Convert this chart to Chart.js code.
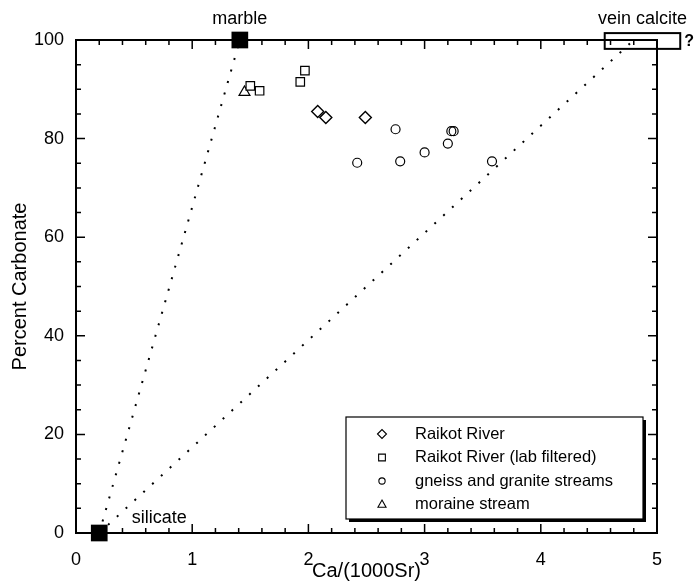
<!DOCTYPE html>
<html>
<head>
<meta charset="utf-8">
<script src="https://cdn.jsdelivr.net/npm/chart.js@4/dist/chart.umd.min.js"></script>
<style>
  html, body { margin: 0; padding: 0; background: #fff; }
  #wrap { width: 696px; height: 584px; position: relative; }
</style>
</head>
<body>
<div id="wrap"><canvas id="chart"></canvas></div>
<script>
// data
const raikotX = [2.08, 2.15, 2.49];
const raikotY = [85.5, 84.3, 84.3];
const filteredX = [1.50, 1.58, 1.93, 1.97];
const filteredY = [90.7, 89.7, 91.5, 93.8];
const gneissX = [2.42, 2.75, 2.79, 3.00, 3.20, 3.23, 3.25, 3.58];
const gneissY = [75.1, 81.9, 75.4, 77.2, 79.0, 81.5, 81.5, 75.4];
const moraineX = [1.45];
const moraineY = [89.4];

// end members and mixing lines
const endNames = ["silicate", "marble"];
const endX = [0.2, 1.41];
const endY = [0, 100];
const veinX = [4.55, 5.2];   // vein calcite box range
const veinY = [98.2, 101.4];
const mixLowX = [0.2, 4.8];
const mixLowY = [0, 100];

const xTicks = [0, 1, 2, 3, 4, 5];
const yTicks = [0, 20, 40, 60, 80, 100];
const legendLabels = ["Raikot River", "Raikot River (lab filtered)", "gneiss and granite streams", "moraine stream"];

const FONT = "'Liberation Sans', Arial, Helvetica, sans-serif";

function pts(xs, ys) {
  return xs.map((x, i) => ({ x: x, y: ys[i] }));
}

// frame + inward ticks, drawn before the points
const framePlugin = {
  id: "frame",
  beforeDatasetsDraw(chart) {
    const ctx = chart.ctx;
    const a = chart.chartArea;
    const xs = chart.scales.x, ys = chart.scales.y;
    ctx.save();
    ctx.strokeStyle = "#000";
    ctx.lineWidth = 1.5;
    ctx.beginPath();
    for (let v = 0; v <= 5.0001; v += 0.2) {
      const px = xs.getPixelForValue(v);
      const major = Math.abs(v - Math.round(v)) < 1e-6;
      const len = major ? 9 : 5;
      ctx.moveTo(px, a.bottom); ctx.lineTo(px, a.bottom - len);
      ctx.moveTo(px, a.top); ctx.lineTo(px, a.top + len);
    }
    for (let v = 0; v <= 100; v += 5) {
      const py = ys.getPixelForValue(v);
      const len = v % 20 === 0 ? 9 : 5;
      ctx.moveTo(a.left, py); ctx.lineTo(a.left + len, py);
      ctx.moveTo(a.right, py); ctx.lineTo(a.right - len, py);
    }
    ctx.stroke();
    ctx.lineWidth = 2;
    ctx.strokeRect(a.left, a.top, a.right - a.left, a.bottom - a.top);
    ctx.restore();
  }
};

function drawSymbol(ctx, kind, x, y, r) {
  ctx.beginPath();
  if (kind === "diamond") {
    ctx.moveTo(x - r, y); ctx.lineTo(x, y - r); ctx.lineTo(x + r, y); ctx.lineTo(x, y + r); ctx.closePath();
  } else if (kind === "square") {
    ctx.rect(x - r * 0.75, y - r * 0.75, r * 1.5, r * 1.5);
  } else if (kind === "circle") {
    ctx.arc(x, y, r * 0.7, 0, Math.PI * 2);
  } else {
    ctx.moveTo(x, y - r); ctx.lineTo(x + r * 0.9, y + r * 0.6); ctx.lineTo(x - r * 0.9, y + r * 0.6); ctx.closePath();
  }
  ctx.stroke();
}

// labels, vein calcite box, legend
const notePlugin = {
  id: "notes",
  afterDraw(chart) {
    const ctx = chart.ctx;
    const xs = chart.scales.x, ys = chart.scales.y;
    const a = chart.chartArea;
    ctx.save();
    ctx.fillStyle = "#000";
    ctx.strokeStyle = "#000";
    ctx.font = "18px " + FONT;
    ctx.textBaseline = "middle";

    // marble
    ctx.textAlign = "center";
    ctx.fillText(endNames[1], xs.getPixelForValue(endX[1]), a.top - 21);

    // vein calcite box
    const bx0 = xs.getPixelForValue(veinX[0]), bx1 = xs.getPixelForValue(veinX[1]);
    const by0 = ys.getPixelForValue(veinY[1]), by1 = ys.getPixelForValue(veinY[0]);
    ctx.lineWidth = 2;
    ctx.strokeRect(bx0, by0, bx1 - bx0, by1 - by0);
    ctx.fillText("vein calcite", (bx0 + bx1) / 2, a.top - 21);
    ctx.font = "bold 16px " + FONT;
    ctx.textAlign = "left";
    ctx.fillText("?", bx1 + 4, (by0 + by1) / 2 + 1);

    // silicate
    ctx.font = "18px " + FONT;
    ctx.fillText(endNames[0], xs.getPixelForValue(0.48), ys.getPixelForValue(3));

    // legend box with shadow
    const L = 346, T = 417, W = 297, H = 102;
    ctx.fillStyle = "#000";
    ctx.fillRect(L + 3, T + 3, W, H);
    ctx.fillStyle = "#fff";
    ctx.fillRect(L, T, W, H);
    ctx.lineWidth = 1.2;
    ctx.strokeRect(L, T, W, H);
    const kinds = ["diamond", "square", "circle", "triangle"];
    ctx.fillStyle = "#000";
    ctx.font = "16.5px " + FONT;
    ctx.lineWidth = 1.1;
    legendLabels.forEach((lab, i) => {
      const yy = T + 17 + i * 23.5;
      drawSymbol(ctx, kinds[i], 382, yy, 4.5);
      ctx.fillText(lab, 415, yy);
    });
    ctx.restore();
  }
};

new Chart(document.getElementById("chart"), {
  type: "scatter",
  data: {
    datasets: [
      {
        label: "mix silicate-marble",
        data: pts(endX, endY),
        showLine: true,
        pointRadius: 0,
        borderColor: "#000",
        borderWidth: 2,
        borderDash: [2, 10],
        clip: false
      },
      {
        label: "mix silicate-vein",
        data: pts(mixLowX, mixLowY),
        showLine: true,
        pointRadius: 0,
        borderColor: "#000",
        borderWidth: 2,
        borderDash: [2, 10],
        clip: false
      },
      {
        label: legendLabels[0],
        data: pts(raikotX, raikotY),
        pointStyle: "rectRot",
        pointRadius: 6,
        borderColor: "#000",
        backgroundColor: "#fff",
        pointBorderWidth: 1.4
      },
      {
        label: legendLabels[1],
        data: pts(filteredX, filteredY),
        pointStyle: "rect",
        pointRadius: 6,
        borderColor: "#000",
        backgroundColor: "#fff",
        pointBorderWidth: 1.2
      },
      {
        label: legendLabels[2],
        data: pts(gneissX, gneissY),
        pointStyle: "circle",
        pointRadius: 4.5,
        borderColor: "#000",
        backgroundColor: "rgba(255,255,255,0)",
        pointBorderWidth: 1.2
      },
      {
        label: legendLabels[3],
        data: pts(moraineX, moraineY),
        pointStyle: "triangle",
        pointRadius: 6.3,
        borderColor: "#000",
        backgroundColor: "#fff",
        pointBorderWidth: 1.2
      },
      {
        label: "end members",
        data: pts(endX, endY),
        pointStyle: "rect",
        pointRadius: 11.8,
        borderColor: "#000",
        backgroundColor: "#000",
        pointBorderWidth: 0,
        clip: false
      }
    ]
  },
  options: {
    responsive: true,
    maintainAspectRatio: false,
    animation: false,
    layout: { padding: { top: 40, right: 39, bottom: 0, left: 0 } },
    plugins: { legend: { display: false }, tooltip: { enabled: false } },
    scales: {
      x: {
        type: "linear",
        min: 0, max: 5,
        afterBuildTicks: s => { s.ticks = xTicks.map(v => ({ value: v })); },
        afterFit: s => { s.height = 51; },
        grid: { display: false, drawTicks: false },
        border: { display: false },
        ticks: { color: "#000", padding: 16, font: { family: FONT, size: 18 } },
        title: { display: true, text: "Ca/(1000Sr)", color: "#000", font: { family: FONT, size: 20 }, padding: { top: 0, bottom: 1 } }
      },
      y: {
        type: "linear",
        min: 0, max: 100,
        afterBuildTicks: s => { s.ticks = yTicks.map(v => ({ value: v })); },
        afterFit: s => { s.width = 76; },
        grid: { display: false, drawTicks: false },
        border: { display: false },
        ticks: { color: "#000", padding: 12, font: { family: FONT, size: 18 } },
        title: { display: true, text: "Percent Carbonate", color: "#000", font: { family: FONT, size: 20 }, padding: { top: 8, bottom: 0 } }
      }
    }
  },
  plugins: [framePlugin, notePlugin]
});
</script>
</body>
</html>
